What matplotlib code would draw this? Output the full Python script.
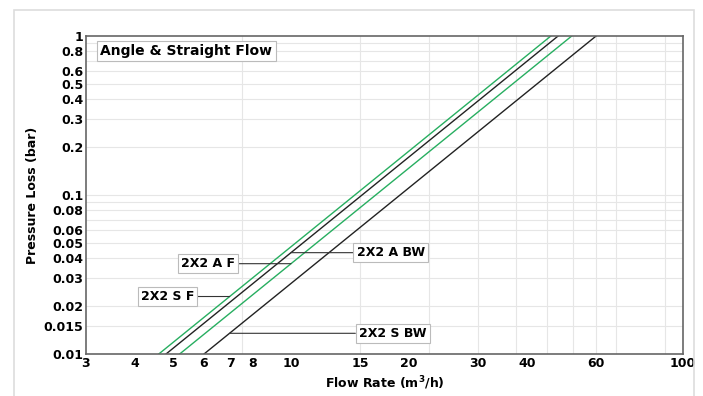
import numpy as np
import matplotlib
matplotlib.use("Agg")
import matplotlib.pyplot as plt
from matplotlib.patches import Rectangle
from matplotlib.ticker import FixedLocator, NullLocator

# Flow (m3/h) at which each curve reaches 1 bar; loss grows with the square of flow
series_names = ["2X2 S F", "2X2 A BW", "2X2 A F", "2X2 S BW"]
flow_at_1bar = [46.0, 48.0, 52.0, 60.0]
series_colors = ["#27ae60", "#222222", "#27ae60", "#222222"]

# label placement: pressure level of the leader line and flow at the box edge
label_pressure = [0.023, 0.0434, 0.037, 0.0135]
label_box_flow = [5.66, 14.7, 7.2, 14.9]
label_side = ["right", "left", "right", "left"]

x_ticks = [3, 4, 5, 6, 7, 8, 10, 15, 20, 30, 40, 60, 100]
y_ticks = [0.01, 0.015, 0.02, 0.03, 0.04, 0.05, 0.06, 0.08, 0.1,
           0.2, 0.3, 0.4, 0.5, 0.6, 0.8, 1]
x_grid = [7.5, 15, 22.5, 30, 37.5, 45, 52.5, 60, 67.5, 90]
y_grid = [0.015, 0.02, 0.03, 0.04, 0.05, 0.06, 0.07, 0.08, 0.09, 0.1,
          0.2, 0.3, 0.4, 0.5, 0.6, 0.7, 0.8, 0.9]

plt.rcParams['font.family'] = ['DejaVu Sans']

fig = plt.figure(figsize=(7.03, 3.96), dpi=100)
fig.patches.append(Rectangle((0.02, -0.05), 0.967, 1.025, transform=fig.transFigure,
                             fill=False, ec="#dddddd", lw=1.2))
ax = fig.add_axes([0.1223, 0.106, 0.8493, 0.803])

# grid drawn by hand, it does not follow the tick labels
for gx in x_grid:
    ax.axvline(gx, color="#e6e6e6", lw=0.8, zorder=0)
for gy in y_grid:
    ax.axhline(gy, color="#e6e6e6", lw=0.8, zorder=0)

p = np.array([0.01, 1.0])
for q1, c in zip(flow_at_1bar, series_colors):
    ax.plot(q1 * np.sqrt(p), p, color=c, lw=1.0, zorder=2)

ax.set_xscale("log")
ax.set_yscale("log")
ax.set_xlim(3, 100)
ax.set_ylim(0.01, 1)

ax.xaxis.set_major_locator(FixedLocator(x_ticks))
ax.xaxis.set_minor_locator(NullLocator())
ax.yaxis.set_major_locator(FixedLocator(y_ticks))
ax.yaxis.set_minor_locator(NullLocator())
ax.set_xticklabels([str(t) for t in x_ticks])
ax.set_yticklabels([f"{t:g}" for t in y_ticks])
ax.tick_params(which="both", length=0, pad=2)
for lab in ax.get_xticklabels() + ax.get_yticklabels():
    lab.set_fontsize(9)
    lab.set_fontweight("bold")

for s in ax.spines.values():
    s.set_color("#666666")
    s.set_linewidth(1.2)

ax.set_xlabel("Flow Rate (m$^\\mathbf{3}$/h)", fontsize=9, fontweight="bold", labelpad=3)
ax.set_ylabel("Pressure Loss (bar)", fontsize=9, fontweight="bold", labelpad=3)

ax.text(0.024, 0.975, "Angle & Straight Flow", transform=ax.transAxes, fontsize=10,
        fontweight="bold", va="top", ha="left",
        bbox=dict(boxstyle="square,pad=0.25", fc="white", ec="#bbbbbb", lw=0.8))

for name, q1, lp, bx, side in zip(series_names, flow_at_1bar, label_pressure,
                                  label_box_flow, label_side):
    ax.annotate(name, xy=(q1 * np.sqrt(lp), lp), xytext=(bx, lp),
                ha=side, va="center", fontsize=9, fontweight="bold",
                bbox=dict(boxstyle="square,pad=0.25", fc="white", ec="#bbbbbb", lw=0.8),
                arrowprops=dict(arrowstyle="-", color="#333333", lw=0.8,
                                shrinkA=0, shrinkB=0))

fig.savefig("out.png", dpi=100)
